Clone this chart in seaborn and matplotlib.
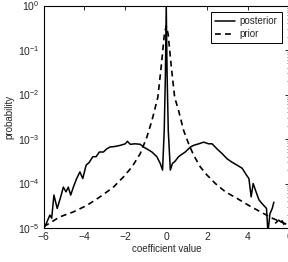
import matplotlib

matplotlib.use("Agg")
import matplotlib.pyplot as plt
import matplotlib.ticker as mticker
from matplotlib.lines import Line2D
import pandas as pd
import seaborn as sns

# values (probability on a log axis)
POST_X = [-5.93, -5.69, -5.60, -5.49, -5.33, -5.16, -5.03, -4.90, -4.79, -4.67,
          -4.54, -4.38, -4.22, -4.08, -3.92, -3.76, -3.59, -3.43, -3.27, -3.07,
          -2.91, -2.75, -2.50, -2.25, -2.00, -1.90, -1.76, -1.52, -1.27, -1.11,
          -0.95, -0.70, -0.46, -0.29, -0.18, -0.10, -0.04, 0.00, 0.04, 0.10,
          0.20, 0.30, 0.44, 0.60, 0.69, 0.93, 1.18, 1.34, 1.59, 1.83,
          2.07, 2.24, 2.48, 2.73, 2.97, 3.22, 3.47, 3.71, 3.92, 4.04,
          4.15, 4.25, 4.36, 4.53, 4.69, 4.90, 4.97, 5.07, 5.18, 5.26]
POST_P = [1.07e-5, 1.95e-5, 1.66e-5, 5.5e-5, 2.75e-5, 5.0e-5, 8.3e-5, 6.5e-5, 8.3e-5, 5.5e-5,
          8.3e-5, 1.29e-4, 1.82e-4, 1.29e-4, 2.57e-4, 3.0e-4, 4.0e-4, 4.0e-4, 5.1e-4, 5.1e-4,
          6.0e-4, 6.6e-4, 6.8e-4, 7.2e-4, 7.8e-4, 8.9e-4, 7.6e-4, 7.8e-4, 7.6e-4, 6.6e-4,
          6.0e-4, 5.1e-4, 4.0e-4, 2.8e-4, 2.0e-4, 1.5e-3, 3.0e-2, 1.0, 3.0e-2, 1.5e-3,
          2.0e-4, 2.8e-4, 3.2e-4, 4.0e-4, 4.3e-4, 5.1e-4, 6.6e-4, 7.2e-4, 7.8e-4, 8.5e-4,
          7.8e-4, 7.8e-4, 6.0e-4, 4.7e-4, 3.6e-4, 3.0e-4, 2.57e-4, 2.2e-4, 1.55e-4, 1.29e-4,
          5.0e-5, 1.0e-4, 7.1e-5, 4.3e-5, 3.5e-5, 2.75e-5, 8.0e-6, 2.1e-5, 2.75e-5, 3.8e-5]
# small isolated piece near the right edge
TAIL_X = [5.34, 5.50, 5.59, 5.67, 5.75]
TAIL_P = [1.29e-5, 1.5e-5, 1.38e-5, 1.45e-5, 1.2e-5]

PRIOR_X = [-6.0, -5.85, -5.20, -4.54, -3.89, -3.24, -2.58, -2.09, -1.68, -1.27,
           -0.95, -0.70, -0.41, -0.25, -0.09, 0.00, 0.09, 0.25, 0.41, 0.60,
           0.85, 1.09, 1.34, 1.67, 1.99, 2.40, 2.89, 3.47, 4.04, 4.61,
           5.18, 5.75, 6.0]
PRIOR_P = [1.1e-5, 1.17e-5, 1.78e-5, 2.3e-5, 3.2e-5, 5.0e-5, 8.3e-5, 1.41e-4, 2.34e-4, 4.7e-4,
           1.1e-3, 2.6e-3, 8.7e-3, 4.1e-2, 2.3e-1, 3.5e-1, 2.3e-1, 4.1e-2, 8.7e-3, 4.4e-3,
           1.55e-3, 7.9e-4, 4.3e-4, 2.34e-4, 1.55e-4, 1.0e-4, 6.5e-5, 4.6e-5, 3.2e-5, 2.3e-5,
           1.66e-5, 1.29e-5, 1.15e-5]

sns.set_style("white")
plt.rcParams.update({
    "font.family": ["Liberation Sans", "DejaVu Sans"],
    "font.size": 7,
    "xtick.direction": "in",
    "ytick.direction": "in",
    "xtick.top": True,
    "ytick.right": True,
    "axes.edgecolor": "black",
    "axes.linewidth": 0.8,
})

post = pd.concat([
    pd.DataFrame({"x": POST_X, "p": POST_P, "seg": 0}),
    pd.DataFrame({"x": TAIL_X, "p": TAIL_P, "seg": 1}),
])
prior = pd.DataFrame({"x": PRIOR_X, "p": PRIOR_P})

fig = plt.figure(figsize=(2.88, 2.62), dpi=100)
ax = fig.add_axes([43.5 / 288, 34 / 262, 245.5 / 288, 222.5 / 262])

sns.lineplot(data=post, x="x", y="p", units="seg", estimator=None, sort=False,
             color="black", lw=1.1, ax=ax)
sns.lineplot(data=prior, x="x", y="p", estimator=None, color="black", lw=1.2,
             ls=(0, (3.5, 2.5)), ax=ax)

ax.set_yscale("log")
ax.set_xlim(-6, 6)
ax.set_ylim(1e-5, 1)
ax.set_xticks([-6, -4, -2, 0, 2, 4, 6])
ax.yaxis.set_major_locator(mticker.LogLocator(base=10, numticks=10))
ax.yaxis.set_minor_locator(mticker.LogLocator(base=10, subs=range(2, 10), numticks=20))
ax.yaxis.set_minor_formatter(mticker.NullFormatter())
ax.tick_params(which="major", length=3, width=0.7, labelsize=7.5, pad=3)
ax.tick_params(which="minor", length=1.6, width=0.5)
ax.set_xlabel("coefficient value", fontsize=7, labelpad=1)
ax.set_ylabel("probability", fontsize=7, labelpad=2)

handles = [Line2D([], [], color="black", lw=1.1),
           Line2D([], [], color="black", lw=1.2, ls=(0, (3.5, 2.5)))]
leg = ax.legend(handles, ["posterior", "prior"], loc="upper right",
                bbox_to_anchor=(282 / 288, 1 - 12 / 262), bbox_transform=fig.transFigure,
                borderaxespad=0, fancybox=False, framealpha=1, fontsize=7,
                handlelength=2.0, handletextpad=0.5, labelspacing=0.28, borderpad=0.45)
leg.get_frame().set_edgecolor("black")
leg.get_frame().set_linewidth(0.7)

fig.savefig("out.png", dpi=100)
